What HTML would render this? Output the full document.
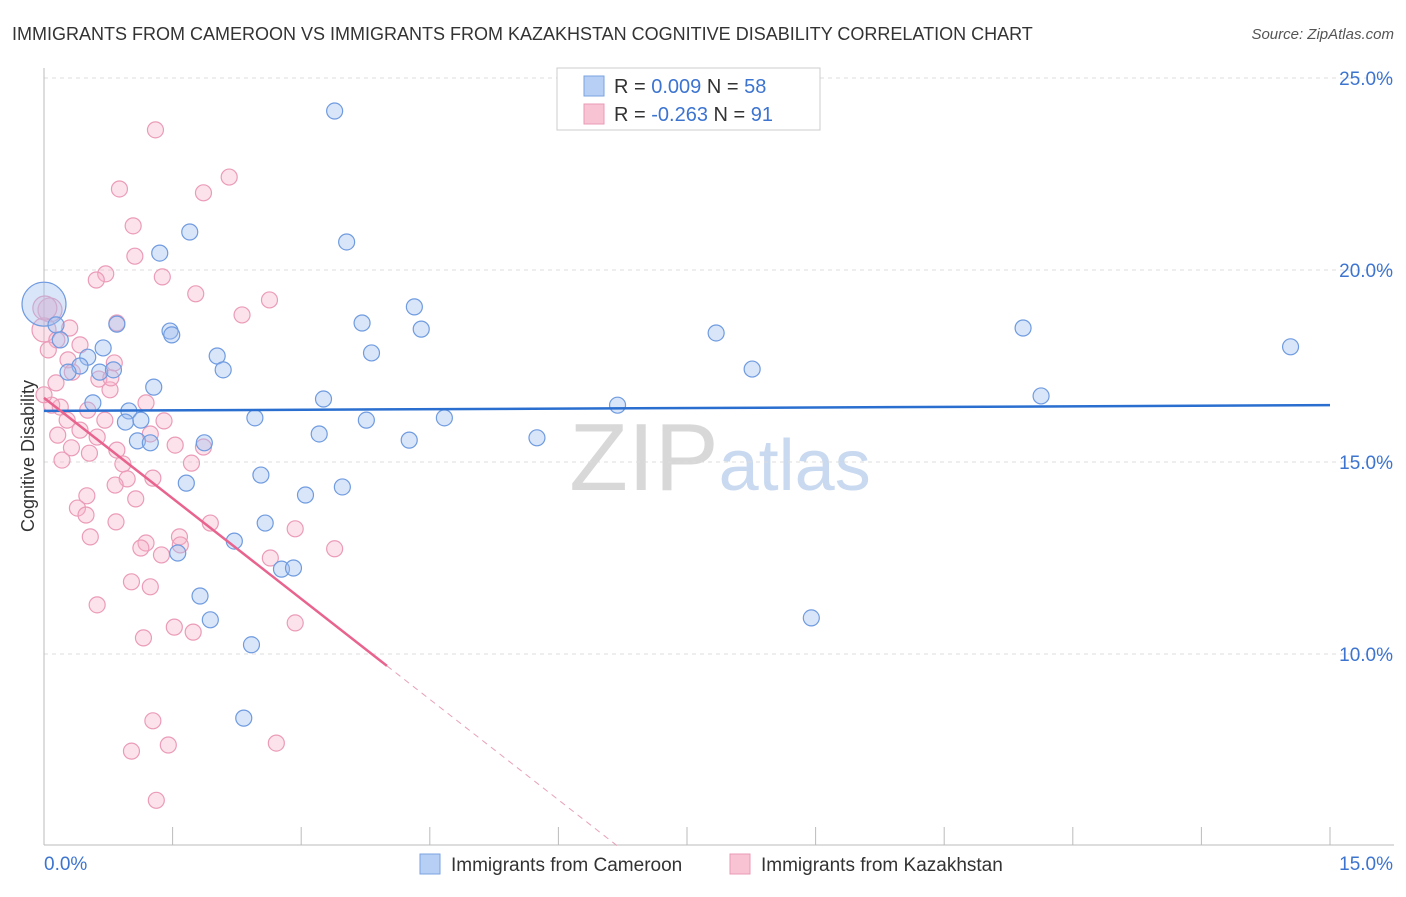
<!DOCTYPE html>
<html><head><meta charset="utf-8"><style>
body{margin:0;background:#fff;font-family:"Liberation Sans",sans-serif;}
svg text{font-family:"Liberation Sans",sans-serif;}
</style></head><body>
<svg id="chart" width="1406" height="892" xmlns="http://www.w3.org/2000/svg">
<text x="12" y="40" font-size="18" fill="#333">IMMIGRANTS FROM CAMEROON VS IMMIGRANTS FROM KAZAKHSTAN COGNITIVE DISABILITY CORRELATION CHART</text>
<text x="1394" y="39" font-size="15" fill="#555" text-anchor="end" font-style="italic">Source: ZipAtlas.com</text>
<text x="720" y="490" font-size="96" text-anchor="middle" fill="#ddd" font-family="Liberation Serif"><tspan fill="#d8d8d8">ZIP</tspan><tspan fill="#c9d9f0" font-family="Liberation Sans" font-size="72">atlas</tspan></text>
<g id="grid"></g><g id="axes"></g><g id="marks"></g>
<text transform="translate(34,456) rotate(-90)" font-size="18" fill="#333" text-anchor="middle">Cognitive Disability</text>
<g>
<rect x="557" y="68" width="263" height="62" fill="#fff" stroke="#ccc"/>
<rect x="584" y="76" width="20" height="20" fill="#b7cff5" stroke="#7aa3e0"/>
<text x="614" y="93" font-size="20" fill="#333">R = <tspan fill="#3c74d0">0.009</tspan>   N = <tspan fill="#3c74d0">58</tspan></text>
<rect x="584" y="104" width="20" height="20" fill="#f8c4d4" stroke="#e89ab5"/>
<text x="614" y="121" font-size="20" fill="#333">R = <tspan fill="#3c74d0">-0.263</tspan>   N = <tspan fill="#3c74d0"> 91</tspan></text>
</g>
<g>
<rect x="420" y="854" width="20" height="20" fill="#b7cff5" stroke="#7aa3e0"/>
<text x="451" y="871" font-size="19" fill="#333">Immigrants from Cameroon</text>
<rect x="730" y="854" width="20" height="20" fill="#f8c4d4" stroke="#e89ab5"/>
<text x="761" y="871" font-size="19" fill="#333">Immigrants from Kazakhstan</text>
</g>
</svg>
<script>
const yTicks=[10,15,20,25];
const yTickLabels=["10.0%","15.0%","20.0%","25.0%"];
const xLabels=["0.0%","15.0%"];
const blueX=[3.39,1.70,3.53,1.35,0,4.32,0.14,0.85,3.71,4.40,1.47,1.49,0.19,0.69,0.51,2.02,3.82,0.42,0.28,2.09,0.65,0.81,1.28,7.84,8.26,11.42,14.54,11.63,3.26,6.69,0.57,0.99,0.95,1.13,2.46,3.76,4.67,1.09,1.24,1.87,3.21,4.26,5.75,2.53,1.66,3.05,3.48,2.58,2.22,1.56,2.77,2.91,1.82,1.94,8.95,2.42,2.33];
const blueY=[24.14,20.99,20.73,20.44,19.11,19.04,18.57,18.59,18.62,18.46,18.41,18.31,18.18,17.97,17.73,17.76,17.84,17.50,17.34,17.40,17.34,17.40,16.95,18.36,17.42,18.49,18.00,16.72,16.64,16.48,16.54,16.33,16.04,16.09,16.15,16.09,16.15,15.55,15.50,15.50,15.73,15.57,15.63,14.66,14.45,14.14,14.35,13.41,12.94,12.63,12.21,12.24,11.51,10.89,10.94,10.24,8.33];
const pinkX=[1.30,2.16,0.88,1.86,1.04,1.06,0.72,1.38,0.61,1.77,2.63,2.31,0.07,0.85,0,0.30,0.15,0.05,0.42,0.28,0.82,0.77,0.33,0.14,0.64,0.78,0.19,0.09,0.27,0.51,0.71,1.19,1.40,1.24,0.62,0.42,0.16,0.32,0.53,0.85,1.53,1.86,0.21,0.92,1.72,0.97,1.27,0.50,0.83,0.39,1.07,0.49,0.84,1.94,2.93,0.54,1.58,1.19,1.13,1.37,1.59,2.64,3.39,1.02,1.24,0.62,1.52,1.74,1.16,2.93,1.27,1.45,1.02,2.71,1.31,0,0.01];
const pinkY=[23.65,22.42,22.11,22.01,21.15,20.36,19.90,19.82,19.74,19.38,19.22,18.83,18.96,18.62,18.44,18.49,18.18,17.92,18.05,17.66,17.58,16.88,17.34,17.06,17.16,17.19,16.43,16.48,16.09,16.35,16.09,16.54,16.07,15.73,15.65,15.83,15.70,15.37,15.23,15.31,15.44,15.39,15.05,14.95,14.97,14.56,14.58,14.12,14.40,13.80,14.04,13.62,13.44,13.41,13.26,13.05,13.05,12.89,12.76,12.58,12.84,12.50,12.74,11.88,11.75,11.28,10.70,10.57,10.42,10.81,8.26,7.63,7.47,7.68,6.19,16.75,19.01];
const blueTrend=[16.33,16.48];
const pinkTrend=[16.67,-9.5];
const NS="http://www.w3.org/2000/svg";
const X0=44,X1=1330,Y0=845;
function sx(v){return X0+(v/15)*(X1-X0);}
function sy(v){return 78+(25-v)*38.4;}
function mk(tag,attrs,parent){const e=document.createElementNS(NS,tag);for(const k in attrs)e.setAttribute(k,attrs[k]);document.getElementById(parent).appendChild(e);return e;}
yTicks.forEach((t,i)=>{
 const l=mk('line',{x1:X0,x2:1394,y1:sy(t),y2:sy(t),stroke:'#ddd','stroke-dasharray':'4,4'},'grid');
 
 
 const tx=mk('text',{x:1393,y:sy(t)+7,'font-size':19,fill:'#3c74d0','text-anchor':'end'},'axes');
 tx.textContent=yTickLabels[i];
 
 
});
const ax=mk('line',{x1:X0,x2:X0,y1:68,y2:Y0,stroke:'#bbb'},'axes');


const bx=mk('line',{x1:X0,x2:1394,y1:Y0,y2:Y0,stroke:'#bbb'},'axes');


for(let i=0;i<=10;i++){const t=mk('line',{x1:sx(i*1.5),x2:sx(i*1.5),y1:Y0,y2:Y0-18,stroke:'#bbb'},'axes');
 
 }
[[0,44,'start'],[1,1393,'end']].forEach(([i,x,a])=>{const t=mk('text',{x:x,y:870,'font-size':19,fill:'#3c74d0','text-anchor':a},'axes');t.textContent=xLabels[i];
 
 });
pinkX.forEach((v,i)=>{const r=(v<0.1&&(pinkY[i]>18.3||pinkY[i]>18.9))?12:8;
 const c=mk('circle',{cx:sx(v),cy:sy(pinkY[i]),r:r,fill:'rgba(245,175,198,0.35)',stroke:'#eb9bb8','stroke-width':1.2},'marks');
 
 });
blueX.forEach((v,i)=>{const r=(v===0)?22:8;
 const c=mk('circle',{cx:sx(v),cy:sy(blueY[i]),r:r,fill:'rgba(160,190,240,0.4)',stroke:'#6f9be0','stroke-width':1.2},'marks');
 
 });
const bl=mk('line',{x1:sx(0),y1:sy(blueTrend[0]),x2:sx(15),y2:sy(blueTrend[1]),stroke:'#2a6fd0','stroke-width':2.5},'marks');


const slope=(pinkTrend[1]-pinkTrend[0])/15;
const xs=4.0, xe=(5-pinkTrend[0])/slope;
const pl=mk('line',{x1:sx(0),y1:sy(pinkTrend[0]),x2:sx(xs),y2:sy(pinkTrend[0]+slope*xs),stroke:'#e8648f','stroke-width':2.5},'marks');


const pd=mk('line',{x1:sx(xs),y1:sy(pinkTrend[0]+slope*xs),x2:sx(xe),y2:sy(5),stroke:'#e8a0b8','stroke-width':1,'stroke-dasharray':'6,5'},'marks');


</script>
</body></html>
